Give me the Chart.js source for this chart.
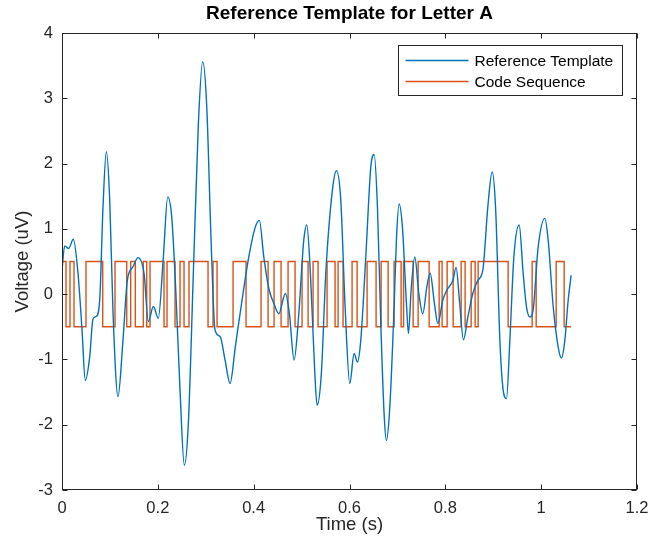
<!DOCTYPE html>
<html>
<head>
<meta charset="utf-8">
<script src="https://cdn.jsdelivr.net/npm/chart.js@4.4.1/dist/chart.umd.min.js"></script>
<style>
    html, body { margin: 0; padding: 0; background: #ffffff; }
</style>
</head>
<body>
<canvas id="grafico" width="654" height="546"></canvas>
<script>
// ===== DATOS =====
// Plantilla de referencia (tiempo en s, voltaje en uV)
const templateTime = [
    0.000, 0.0056, 0.0140, 0.0236, 0.0334, 0.0418, 0.0486, 0.0578, 0.0647, 0.0716,
    0.0787, 0.0856, 0.0925, 0.0996, 0.1065, 0.1169, 0.1273, 0.1363, 0.1482, 0.1587,
    0.1712, 0.1802, 0.1906, 0.2010, 0.2115, 0.2207, 0.2290, 0.2374, 0.2463, 0.2553,
    0.2637, 0.2741, 0.2846, 0.2937, 0.3021, 0.3111, 0.3194, 0.3299, 0.3403, 0.3507,
    0.3618, 0.3758, 0.3898, 0.4035, 0.4119, 0.4211, 0.4315, 0.4420, 0.4524, 0.4662,
    0.4746, 0.4843, 0.4942, 0.5046, 0.5109, 0.5184, 0.5276, 0.5324, 0.5413, 0.5505,
    0.5643, 0.5727, 0.5818, 0.5908, 0.6006, 0.6096, 0.6165, 0.6236, 0.6340, 0.6445,
    0.6514, 0.6583, 0.6653, 0.6722, 0.6770, 0.6841, 0.6931, 0.6979, 0.7035, 0.7104,
    0.7188, 0.7230, 0.7286, 0.7363, 0.7447, 0.7530, 0.7614, 0.7683, 0.7772, 0.7843,
    0.7948, 0.8031, 0.8157, 0.8225, 0.8294, 0.8378, 0.8470, 0.8574, 0.8678, 0.8783,
    0.8887, 0.8977, 0.9050, 0.9138, 0.9207, 0.9276, 0.9347, 0.9430, 0.9541, 0.9624,
    0.9693, 0.9764, 0.9833, 0.9937, 1.0077, 1.0146, 1.0251, 1.0355, 1.0424, 1.0495,
    1.0564, 1.0626
];
const templateVoltage = [
    0.37, 0.74, 0.70, 0.84, 0.32, -0.55, -1.32, -0.96, -0.38, -0.34,
    -0.09, 1.34, 2.18, 1.44, -0.29, -1.57, -0.70, 0.21, 0.42, 0.56,
    0.32, -0.42, -0.19, -0.37, 0.57, 1.49, 1.18, 0.06, -1.47, -2.62,
    -1.98, 0.32, 2.61, 3.56, 2.87, 0.83, -0.55, -0.65, -1.01, -1.37,
    -0.80, -0.09, 0.57, 1.03, 1.13, 0.57, 0.09, -0.14, -0.30, 0.01,
    -0.30, -1.01, -0.30, 0.83, 1.06, 0.32, -1.21, -1.70, -1.21, 0.32,
    1.59, 1.89, 1.44, -0.19, -1.37, -0.91, -1.04, -0.70, 0.57, 1.95,
    2.14, 1.34, -0.45, -1.83, -2.24, -1.73, -0.19, 0.83, 1.38, 1.03,
    -0.14, -0.60, 0.06, 0.57, 0.01, -0.30, 0.11, 0.32, -0.14, -0.45,
    -0.09, 0.06, 0.21, 0.41, -0.09, -0.70, -0.35, 0.01, 0.21, 0.37,
    1.34, 1.87, 1.30, -0.70, -1.47, -1.60, -0.70, 0.57, 1.06, 0.32,
    -0.19, -0.35, -0.24, 0.72, 1.16, 0.83, -0.19, -0.81, -0.98, -0.70,
    -0.09, 0.29
];

// Secuencia de código: instante de cada cambio y nivel a partir de él
const codeTime = [
    0.0000, 0.0084, 0.0167, 0.0251, 0.0501, 0.0850, 0.1106, 0.1351, 0.1434, 0.1530,
    0.1697, 0.1768, 0.1837, 0.2129, 0.2192, 0.2359, 0.2463, 0.2547, 0.2651, 0.3048,
    0.3152, 0.3236, 0.3570, 0.3841, 0.4154, 0.4301, 0.4426, 0.4572, 0.4718, 0.4864,
    0.5010, 0.5136, 0.5240, 0.5344, 0.5532, 0.5699, 0.5762, 0.5866, 0.6054, 0.6159,
    0.6367, 0.6555, 0.6660, 0.6806, 0.6931, 0.7077, 0.7129, 0.7328, 0.7432, 0.7662,
    0.7871, 0.7933, 0.8038, 0.8163, 0.8330, 0.8413, 0.8539, 0.8622, 0.8685, 0.9311,
    0.9812, 0.9896, 1.0313, 1.0480, 1.0626
];
const codeLevel = [
    0.5, -0.5, 0.5, -0.5, 0.5, -0.5, 0.5, -0.5, 0.5, -0.5,
    0.5, -0.5, 0.5, -0.5, 0.5, -0.5, 0.5, -0.5, 0.5, -0.5,
    0.5, -0.5, 0.5, -0.5, 0.5, -0.5, 0.5, -0.5, 0.5, -0.5,
    0.5, -0.5, 0.5, -0.5, 0.5, -0.5, 0.5, -0.5, 0.5, -0.5,
    0.5, -0.5, 0.5, -0.5, 0.5, -0.5, 0.5, -0.5, 0.5, -0.5,
    0.5, -0.5, 0.5, -0.5, 0.5, -0.5, 0.5, -0.5, 0.5, -0.5,
    0.5, -0.5, 0.5, -0.5, -0.5
];

const xTicks = [0, 0.2, 0.4, 0.6, 0.8, 1, 1.2];
const yTicks = [-3, -2, -1, 0, 1, 2, 3, 4];

const seriesLabels = ['Reference Template', 'Code Sequence'];
const chartTitle = 'Reference Template for Letter A';
const xTitle = 'Time (s)';
const yTitle = 'Voltage (uV)';

// ===== ESTILO =====
const AZUL = '#0072BD';
const NARANJA = '#D95319';
const EJE = '#262626';
const FUENTE = "'Liberation Sans', Arial, Helvetica, sans-serif";

// ===== PLUGIN: caja, ticks hacia dentro, títulos y leyenda estilo MATLAB =====
const marcoMatlab = {
    id: 'marcoMatlab',
    afterDraw(chart) {
        const ctx = chart.ctx;
        const a = chart.chartArea;
        const sx = chart.scales.x;
        const sy = chart.scales.y;
        const L = Math.round(a.left) + 0.5, R = Math.round(a.right) - 0.5;
        const T = Math.round(a.top) + 0.5, B = Math.round(a.bottom) - 0.5;
        const tick = 5;

        ctx.save();
        ctx.strokeStyle = EJE;
        ctx.lineWidth = 1;
        ctx.strokeRect(L, T, R - L, B - T);

        ctx.beginPath();
        xTicks.forEach(v => {
            const px = Math.round(sx.getPixelForValue(v)) + 0.5;
            ctx.moveTo(px, B); ctx.lineTo(px, B - tick);
            ctx.moveTo(px, T); ctx.lineTo(px, T + tick);
        });
        yTicks.forEach(v => {
            const py = Math.round(sy.getPixelForValue(v)) + 0.5;
            ctx.moveTo(L, py); ctx.lineTo(L + tick, py);
            ctx.moveTo(R, py); ctx.lineTo(R - tick, py);
        });
        ctx.stroke();

        // Título
        ctx.fillStyle = '#000000';
        ctx.textAlign = 'center';
        ctx.textBaseline = 'middle';
        ctx.font = 'bold 19px ' + FUENTE;
        ctx.fillText(chartTitle, (a.left + a.right) / 2, 14);

        // Títulos de ejes
        ctx.fillStyle = EJE;
        ctx.font = '18.5px ' + FUENTE;
        ctx.fillText(xTitle, (a.left + a.right) / 2, 525);
        ctx.save();
        ctx.translate(23, (a.top + a.bottom) / 2);
        ctx.rotate(-Math.PI / 2);
        ctx.fillText(yTitle, 0, 0);
        ctx.restore();

        // Leyenda
        const lx = 398.5, ly = 45.5, lw = 224, lh = 50;
        ctx.fillStyle = '#ffffff';
        ctx.fillRect(lx, ly, lw, lh);
        ctx.strokeStyle = EJE;
        ctx.strokeRect(lx, ly, lw, lh);
        const colores = [AZUL, NARANJA];
        ctx.font = '15.5px ' + FUENTE;
        ctx.textAlign = 'left';
        seriesLabels.forEach((txt, i) => {
            const yy = ly + 15 + i * 21;
            ctx.strokeStyle = colores[i];
            ctx.lineWidth = 1.5;
            ctx.beginPath();
            ctx.moveTo(lx + 7, yy);
            ctx.lineTo(lx + 70, yy);
            ctx.stroke();
            ctx.fillStyle = '#000000';
            ctx.fillText(txt, lx + 76, yy + 1);
        });
        ctx.restore();
    }
};

// ===== GRÁFICO =====
function inicializarGrafico() {
    const puntosTemplate = templateTime.map((t, i) => ({ x: t, y: templateVoltage[i] }));
    const puntosCodigo = codeTime.map((t, i) => ({ x: t, y: codeLevel[i] }));

    const ctx = document.getElementById('grafico').getContext('2d');
    window.graficoPlantilla = new Chart(ctx, {
        type: 'line',
        data: {
            datasets: [
                {
                    label: seriesLabels[0],
                    data: puntosTemplate,
                    borderColor: AZUL,
                    borderWidth: 1.4,
                    pointRadius: 0,
                    cubicInterpolationMode: 'monotone',
                    fill: false
                },
                {
                    label: seriesLabels[1],
                    data: puntosCodigo,
                    borderColor: NARANJA,
                    borderWidth: 1.4,
                    pointRadius: 0,
                    stepped: true,
                    fill: false
                }
            ]
        },
        options: {
            responsive: false,
            devicePixelRatio: 1,
            animation: false,
            layout: { padding: { left: 0, top: 33, right: 17, bottom: 0 } },
            plugins: {
                legend: { display: false },
                title: { display: false },
                tooltip: { enabled: false }
            },
            scales: {
                x: {
                    type: 'linear',
                    min: 0,
                    max: 1.2,
                    afterBuildTicks: s => { s.ticks = xTicks.map(v => ({ value: v })); },
                    afterFit: s => { s.height = 56; s.paddingLeft = 0; s.paddingRight = 0; },
                    grid: { display: false, drawTicks: false },
                    border: { display: false },
                    ticks: {
                        color: EJE,
                        padding: 9,
                        maxRotation: 0,
                        autoSkip: false,
                        font: { family: FUENTE, size: 16.5 },
                        callback: v => String(+Number(v).toFixed(1))
                    }
                },
                y: {
                    type: 'linear',
                    min: -3,
                    max: 4,
                    afterBuildTicks: s => { s.ticks = yTicks.map(v => ({ value: v })); },
                    afterFit: s => { s.width = 62; s.paddingTop = 0; s.paddingBottom = 0; },
                    grid: { display: false, drawTicks: false },
                    border: { display: false },
                    ticks: {
                        color: EJE,
                        padding: 9,
                        autoSkip: false,
                        font: { family: FUENTE, size: 16.5 },
                        callback: v => String(v)
                    }
                }
            }
        },
        plugins: [marcoMatlab]
    });
}

document.addEventListener('DOMContentLoaded', inicializarGrafico);
</script>
</body>
</html>
